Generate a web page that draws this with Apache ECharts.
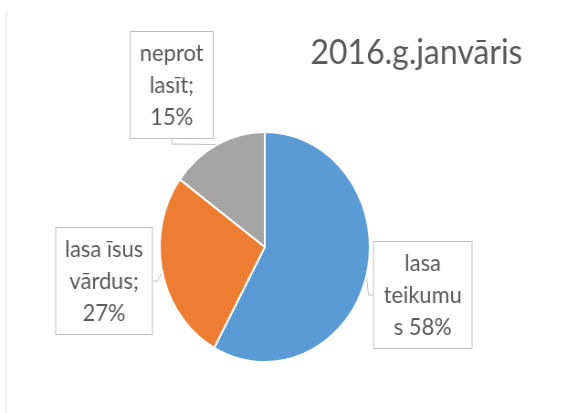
<!DOCTYPE html>
<html>
<head>
<meta charset="utf-8">
<script src="https://cdn.jsdelivr.net/npm/echarts@6/dist/echarts.min.js"></script>
<style>
  html, body { margin: 0; padding: 0; background: #fff; overflow: hidden; }
  /* the original picture is slightly stretched vertically, so the pie is an
     ellipse; draw wider and squeeze horizontally */
  #chart { width: 628px; height: 413px; transform: scaleX(0.913); transform-origin: 0 0; }
</style>
</head>
<body>
<div id="chart"></div>
<script>
  // data
  var categories = ["lasa teikumus", "lasa īsus vārdus", "neprot lasīt"];
  var values = [58, 27, 15];
  var colors = ["#5B9BD5", "#ED7D31", "#A5A5A5"];
  // label text as it wraps in the original boxes
  var labelLines = [
    ["lasa", "teikumu", "s 58%"],
    ["lasa īsus", "vārdus;", "27%"],
    ["neprot", "lasīt;", "15%"],
  ];
  // label box centres and widths (in unsqueezed coords)
  var labelPos = [[463, 295], [114, 281], [188, 85]];
  var labelWidth = [107, 105, 90];

  var chartDom = document.getElementById("chart");
  var myChart = echarts.init(chartDom);

  var option = {
    animation: false,
    title: {
      text: "2016.g.janvāris",
      left: 335,
      top: 30,
      textStyle: {
        fontFamily: "Lato",
        fontSize: 35,
        fontWeight: "normal",
        color: "#595959",
      },
    },
    graphic: [
      {
        type: "line",
        shape: { x1: 7, y1: 12, x2: 7, y2: 413 },
        style: { stroke: "#D9D9D9", lineWidth: 1 },
      },
    ],
    series: [
      {
        type: "pie",
        center: [290, 247],
        radius: 115,
        startAngle: 90,
        clockwise: true,
        itemStyle: { borderColor: "#fff", borderWidth: 2 },
        label: {
          show: true,
          position: "outside",
          formatter: function (p) {
            return labelLines[p.dataIndex].join("\n");
          },
          fontFamily: "Lato",
          fontSize: 24,
          lineHeight: 32,
          color: "#595959",
          align: "center",
          backgroundColor: "#fff",
          borderColor: "#BFBFBF",
          borderWidth: 1,
          padding: [5, 0],
        },
        labelLine: {
          show: true,
          length: 5,
          length2: 5,
          lineStyle: { color: "#BFBFBF", width: 1 },
        },
        labelLayout: function (params) {
          var i = params.dataIndex;
          return {
            x: labelPos[i][0],
            y: labelPos[i][1],
            align: "center",
            verticalAlign: "middle",
          };
        },
        data: categories.map(function (c, i) {
          return {
            name: c,
            value: values[i],
            itemStyle: { color: colors[i] },
            label: { width: labelWidth[i] },
          };
        }),
      },
    ],
  };

  myChart.setOption(option);
</script>
</body>
</html>
